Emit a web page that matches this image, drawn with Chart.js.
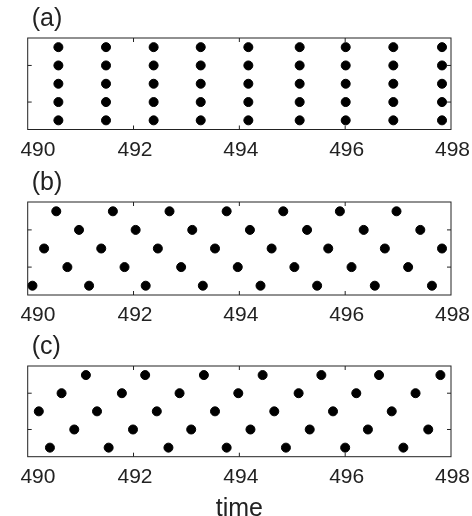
<!DOCTYPE html>
<html>
<head>
<meta charset="utf-8">
<script src="https://cdn.jsdelivr.net/npm/chart.js@4.4.0/dist/chart.umd.min.js"></script>
<style>
  html, body { margin: 0; padding: 0; background: #fff; overflow: hidden; }
  .panel { position: absolute; left: 0; width: 472px; }
</style>
</head>
<body>
<div class="panel" style="top:0px;height:168px"><canvas id="chartA"></canvas></div>
<div class="panel" style="top:164px;height:168px"><canvas id="chartB"></canvas></div>
<div class="panel" style="top:328px;height:202px"><canvas id="chartC"></canvas></div>
<script>
// tick labels
var xTicks = [490, 492, 494, 496, 498];
var yTicks = [2, 4];

// panel (a): every column holds all five levels
var aColumns = [490.58, 491.48, 492.38, 493.27, 494.17, 495.14, 496.01, 496.91, 497.83];
var aLevels = [1, 2, 3, 4, 5];

// panel (b)
var bTime = [490.09, 490.31, 490.54, 490.75, 490.97,
             491.16, 491.39, 491.61, 491.83, 492.04,
             492.23, 492.46, 492.68, 492.90, 493.11,
             493.31, 493.54, 493.76, 493.97, 494.20,
             494.40, 494.61, 494.83, 495.04, 495.28,
             495.47, 495.68, 495.90, 496.12, 496.35,
             496.56, 496.75, 496.97, 497.19, 497.42,
             497.64, 497.83];
var bLevel = [1, 3, 5, 2, 4,
              1, 3, 5, 2, 4,
              1, 3, 5, 2, 4,
              1, 3, 5, 2, 4,
              1, 3, 5, 2, 4,
              1, 3, 5, 2, 4,
              1, 3, 5, 2, 4,
              1, 3];

// panel (c)
var cTime = [490.21, 490.42, 490.64, 490.88, 491.10,
             491.31, 491.53, 491.78, 491.99, 492.22,
             492.44, 492.66, 492.87, 493.09, 493.33,
             493.54, 493.76, 493.98, 494.21, 494.44,
             494.66, 494.88, 495.12, 495.33, 495.55,
             495.77, 496.00, 496.21, 496.43, 496.64,
             496.88, 497.10, 497.33, 497.57, 497.80];
var cLevel = [3, 1, 4, 2, 5,
              3, 1, 4, 2, 5,
              3, 1, 4, 2, 5,
              3, 1, 4, 2, 5,
              3, 1, 4, 2, 5,
              3, 1, 4, 2, 5,
              3, 1, 4, 2, 5];

var aTime = [], aLevel = [];
for (var i = 0; i < aColumns.length; i++) {
  for (var j = 0; j < aLevels.length; j++) {
    aTime.push(aColumns[i]);
    aLevel.push(aLevels[j]);
  }
}

function toPoints(t, v) {
  var pts = [];
  for (var i = 0; i < t.length; i++) pts.push({ x: t[i], y: v[i] });
  return pts;
}

var FONT = "'Liberation Sans', Arial, sans-serif";

// box round the plot, inward tick marks, panel letter
var framePlugin = {
  id: 'frame',
  afterDraw: function (chart, args, opts) {
    var ctx = chart.ctx, a = chart.chartArea;
    var xs = chart.scales.x, ys = chart.scales.y;
    ctx.save();
    ctx.strokeStyle = '#222';
    ctx.lineWidth = 1;
    ctx.strokeRect(a.left, a.top, a.right - a.left, a.bottom - a.top);
    ctx.beginPath();
    for (var i = 1; i < xTicks.length - 1; i++) {
      var px = xs.getPixelForValue(xTicks[i]);
      ctx.moveTo(px, a.bottom); ctx.lineTo(px, a.bottom - 4);
      ctx.moveTo(px, a.top); ctx.lineTo(px, a.top + 4);
    }
    for (var k = 0; k < yTicks.length; k++) {
      var py = ys.getPixelForValue(yTicks[k]);
      ctx.moveTo(a.left, py); ctx.lineTo(a.left + 4, py);
      ctx.moveTo(a.right, py); ctx.lineTo(a.right - 4, py);
    }
    ctx.stroke();
    ctx.fillStyle = '#222';
    ctx.font = '25px ' + FONT;
    ctx.textBaseline = 'middle';
    ctx.fillText(opts.letter, a.left + 4, a.top - 19);
    ctx.restore();
  }
};

function makeChart(id, letter, t, v, axisHeight, showTitle) {
  return new Chart(document.getElementById(id), {
    type: 'scatter',
    data: {
      datasets: [{
        data: toPoints(t, v),
        backgroundColor: '#000',
        borderColor: '#000',
        borderWidth: 1,
        pointRadius: 4.5,
        pointHoverRadius: 4.5,
        clip: false
      }]
    },
    options: {
      responsive: true,
      maintainAspectRatio: false,
      animation: false,
      events: [],
      layout: { padding: { top: 38, right: 21, left: 0, bottom: 0 } },
      plugins: {
        legend: { display: false },
        tooltip: { enabled: false },
        frame: { letter: letter }
      },
      scales: {
        x: {
          type: 'linear',
          min: 490, max: 498,
          grid: { display: false, drawTicks: false },
          border: { display: false },
          afterBuildTicks: function (s) { s.ticks = xTicks.map(function (val) { return { value: val }; }); },
          ticks: {
            padding: 8,
            labelOffset: 1.5,
            color: '#222',
            maxRotation: 0,
            font: { size: 21, family: FONT },
            // the first label sits a little right of the left edge, as in the original
            callback: function (val) { return val === 490 ? '   ' + val : String(val); }
          },
          title: {
            display: showTitle,
            text: 'time',
            color: '#222',
            padding: { top: 0, bottom: 6 },
            font: { size: 25, family: FONT }
          },
          afterFit: function (s) {
            s.height = axisHeight;
            s.paddingLeft = 0;
            s.paddingRight = 0;
          }
        },
        y: {
          min: 0.5, max: 5.5,
          grid: { display: false, drawTicks: false },
          border: { display: false },
          ticks: { display: false },
          afterFit: function (s) { s.width = 27.7; }
        }
      }
    },
    plugins: [framePlugin]
  });
}

makeChart('chartA', '(a)', aTime, aLevel, 38.5, false);
makeChart('chartB', '(b)', bTime, bLevel, 37, false);
makeChart('chartC', '(c)', cTime, cLevel, 73.3, true);
</script>
</body>
</html>
